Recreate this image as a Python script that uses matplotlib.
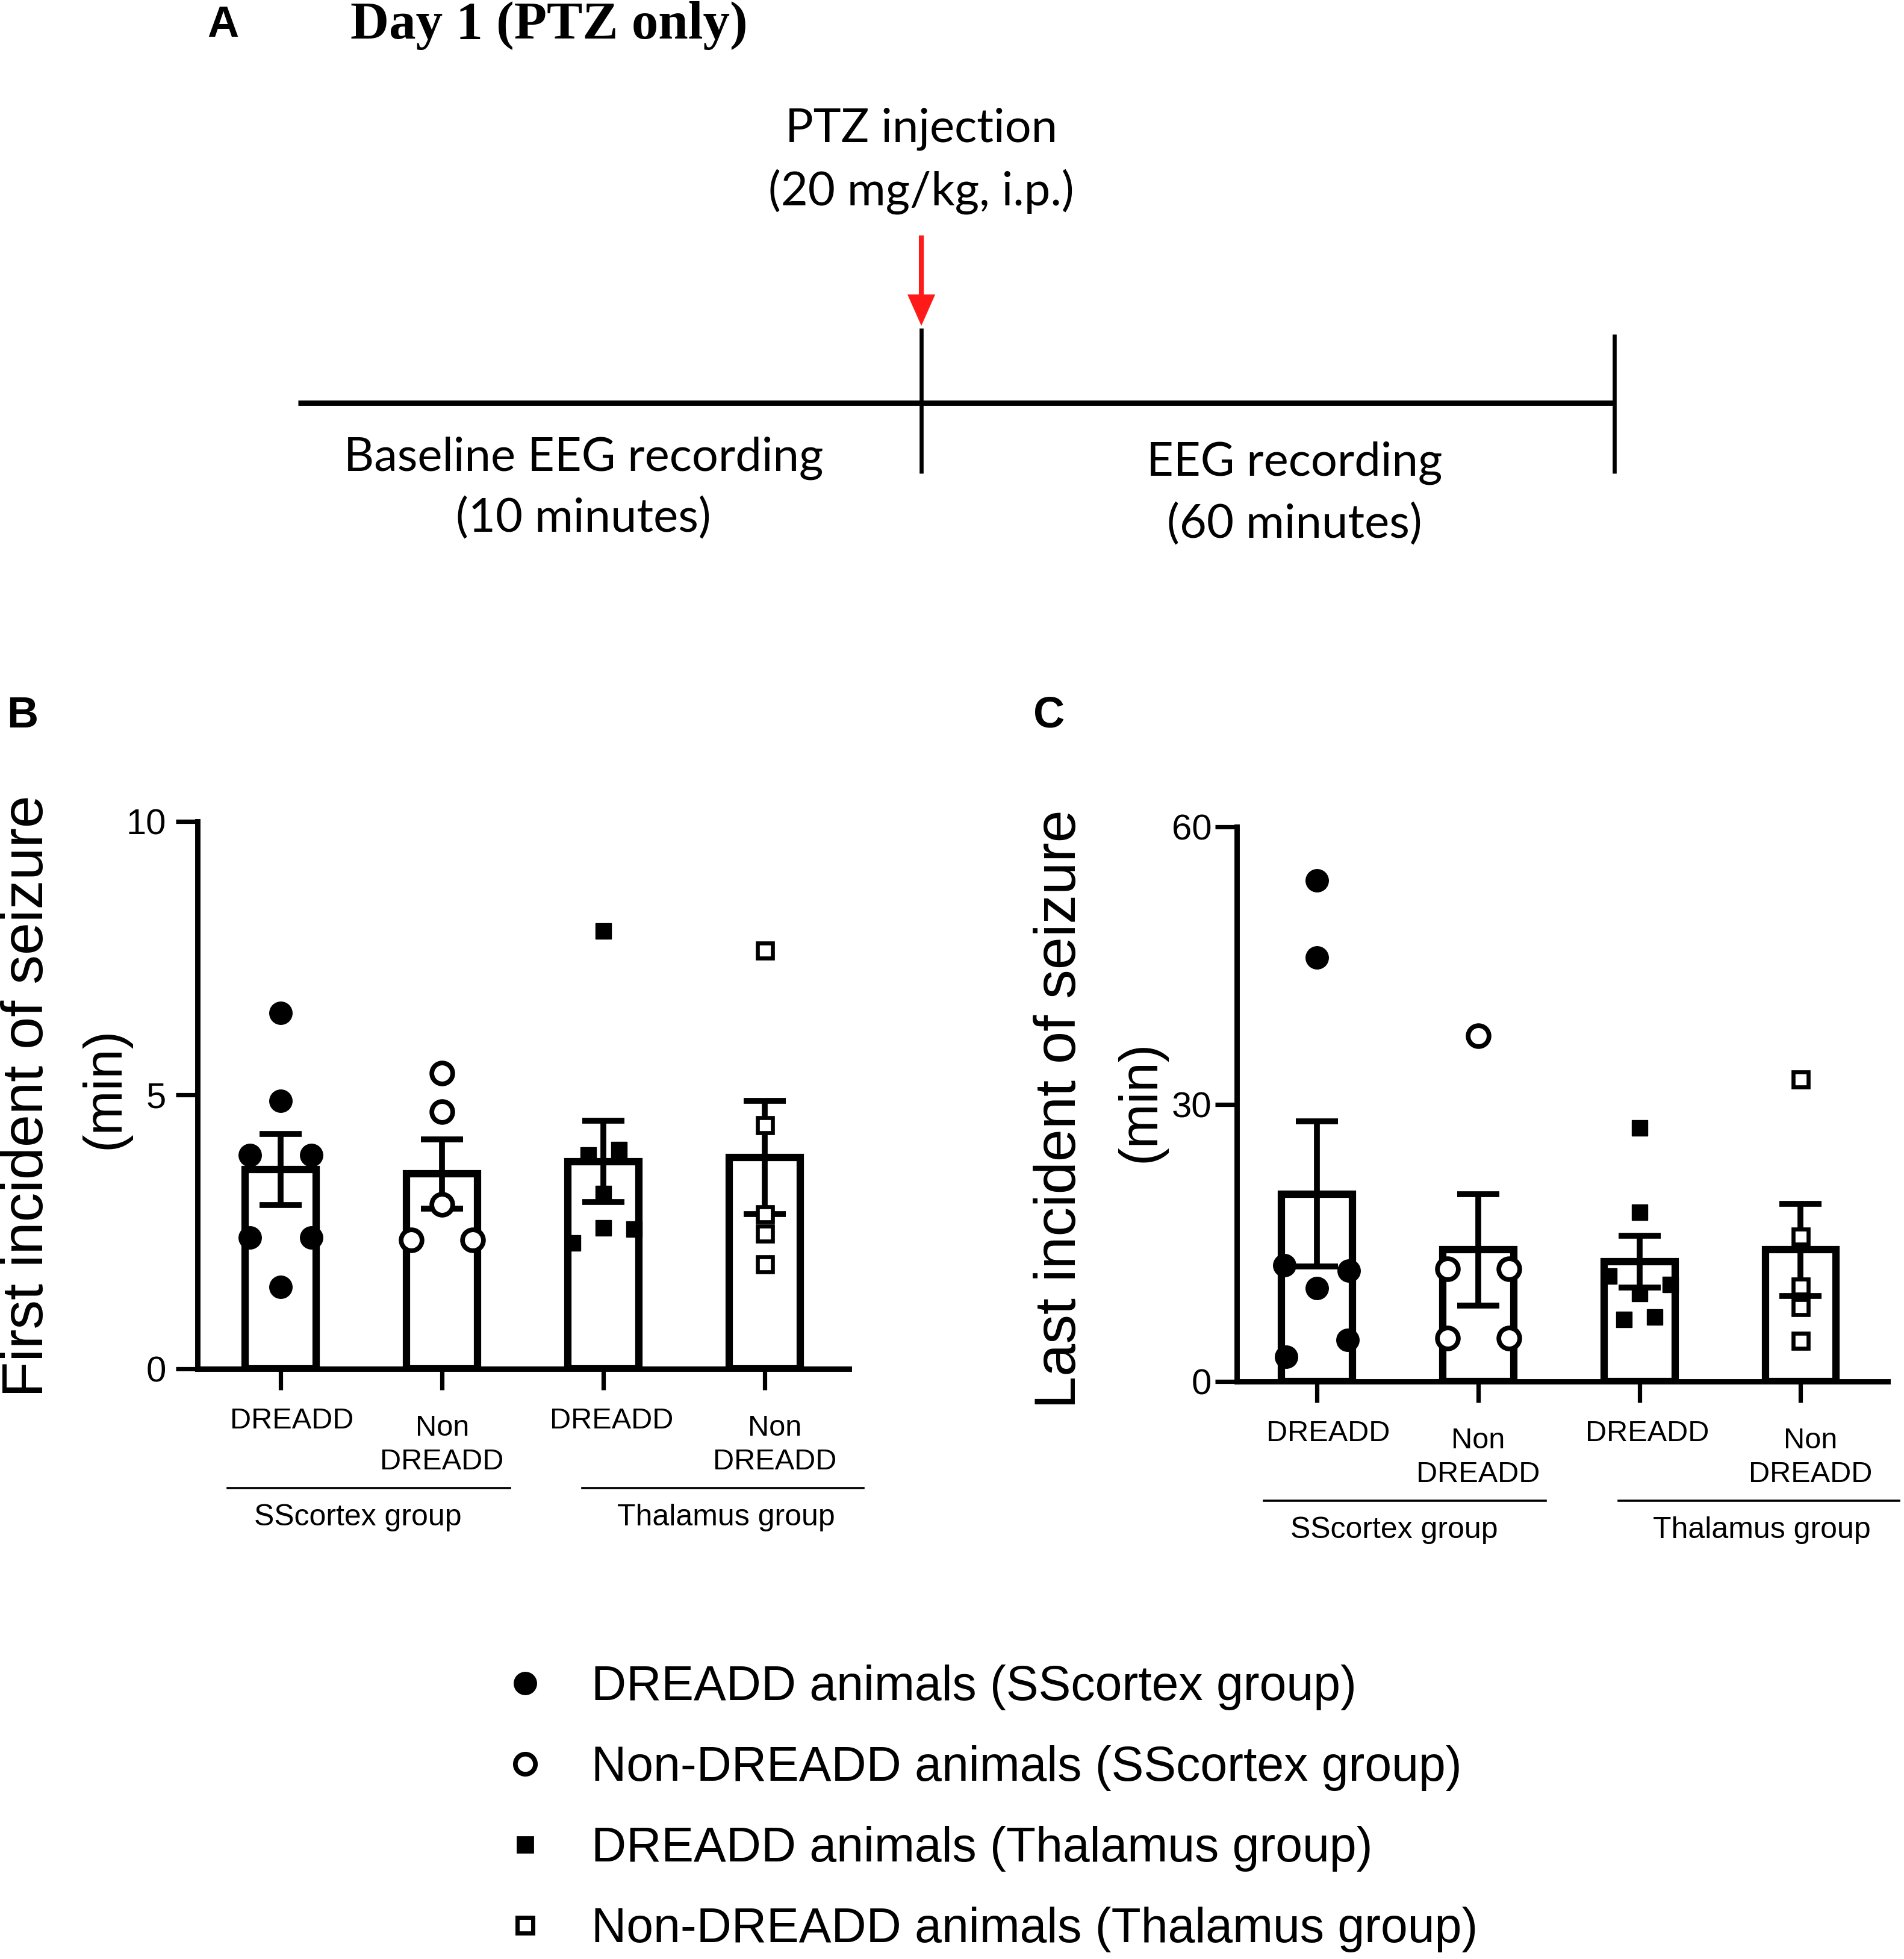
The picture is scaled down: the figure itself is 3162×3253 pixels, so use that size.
import numpy as np
import matplotlib
matplotlib.use("Agg")
import matplotlib.pyplot as plt
from matplotlib.lines import Line2D
from matplotlib.transforms import ScaledTranslation

# ---- data ----
bar_labels = ["DREADD", "Non\nDREADD", "DREADD", "Non\nDREADD"]
group_labels = ["SScortex group", "Thalamus group"]
legend_labels = [
    "DREADD animals (SScortex group)",
    "Non-DREADD animals (SScortex group)",
    "DREADD animals (Thalamus group)",
    "Non-DREADD animals (Thalamus group)",
]

# first incident of seizure (min)
first_ss_dreadd = [6.5, 4.9, 3.9, 3.9, 2.4, 2.4, 1.5]
first_ss_non = [5.4, 4.7, 3.0, 2.35, 2.35]
first_th_dreadd = [8.0, 4.0, 3.9, 3.2, 2.57, 2.55, 2.3]
first_th_non = [7.65, 4.45, 2.83, 2.47, 1.91]

# last incident of seizure (min)
last_ss_dreadd = [54.2, 45.9, 10.1, 12.0, 12.6, 4.5, 2.7]
last_ss_non = [37.4, 12.2, 12.2, 4.7, 4.7]
last_th_dreadd = [27.4, 18.3, 9.5, 10.5, 11.4, 7.0, 6.7]
last_th_non = [32.7, 15.7, 10.3, 8.1, 4.4]

first_ticks = [0, 5, 10]
last_ticks = [0, 30, 60]

SANS = ["Liberation Sans", "DejaVu Sans"]

# marker style per group: marker, face, size (pt), edge width, x step of a row
STYLES = [
    dict(marker="o", mfc="black", ms=13.5, mew=0.5, step=0.38),
    dict(marker="o", mfc="white", ms=12.5, mew=2.8, step=0.38),
    dict(marker="s", mfc="black", ms=9.5, mew=0.5, step=0.19),
    dict(marker="s", mfc="white", ms=9.0, mew=2.4, step=0.19),
]
MAX_SPREAD = 0.2


def swarm_offsets(values, min_gap, step):
    """Put overlapping points side by side in rows, like GraphPad does."""
    vals = np.asarray(values, dtype=float)
    order = np.argsort(-vals, kind="stable")
    rows, current = [], [order[0]]
    for prev, idx in zip(order[:-1], order[1:]):
        if vals[prev] - vals[idx] < min_gap:
            current.append(idx)
        else:
            rows.append(current)
            current = [idx]
    rows.append(current)

    offsets = np.zeros(len(vals))
    for row in rows:
        row = sorted(row)
        n = len(row)
        slots = (np.arange(n) - (n - 1) / 2) * step
        if n > 1 and slots.max() > MAX_SPREAD:
            slots = slots * MAX_SPREAD / slots.max()
        slot_order = sorted(range(n), key=lambda k: (abs(slots[k]), -slots[k]))
        for idx, k in zip(row, slot_order):
            offsets[idx] = slots[k]
    return offsets


def draw_panel(fig, ax, series, yticks, xlim, ypad):
    pos = np.arange(len(series))
    means = [np.mean(v) for v in series]
    sems = [np.std(v, ddof=1) / np.sqrt(len(v)) for v in series]

    ax.set_xlim(*xlim)
    ax.set_ylim(0, yticks[-1])

    ax.bar(pos, means, width=0.44, color="white", edgecolor="black",
           linewidth=4.4, zorder=1)
    ax.errorbar(pos, means, yerr=sems, fmt="none", ecolor="black",
                elinewidth=3.5, capsize=12.5, capthick=3.5, zorder=2)

    px_per_unit = ax.transData.transform((0, 1))[1] - ax.transData.transform((0, 0))[1]
    for i, (vals, st) in enumerate(zip(series, STYLES)):
        size_px = (st["ms"] + st["mew"]) * fig.dpi / 72
        offs = swarm_offsets(vals, size_px / px_per_unit, st["step"])
        ax.plot(i + offs, vals, ls="none", marker=st["marker"], ms=st["ms"],
                mfc=st["mfc"], mec="black", mew=st["mew"], zorder=3, clip_on=False)

    for side in ["top", "right"]:
        ax.spines[side].set_visible(False)
    for side in ["left", "bottom"]:
        ax.spines[side].set_linewidth(3.2)

    ax.set_yticks(yticks)
    ax.set_xticks(pos)
    ax.set_xticklabels([])
    ax.tick_params(axis="y", length=13, width=2.6, pad=ypad, labelsize=21.5)
    ax.tick_params(axis="x", length=12.6, width=2.6)
    for lab in ax.get_yticklabels():
        lab.set_family(SANS)

    # category labels under the ticks
    trans = ax.get_xaxis_transform()
    label_dx = [0.07, 0.0, 0.05, 0.06]
    for i, lab in enumerate(bar_labels):
        two_lines = "\n" in lab
        ax.annotate(lab, xy=(i + label_dx[i], 0), xycoords=trans,
                    xytext=(0, -45.5 if two_lines else -31.3), textcoords="offset points",
                    ha="center", va="center", fontsize=17.5, family=SANS,
                    linespacing=1.3)

    # group brackets
    spans = [(-0.33, 1.42), (1.87, 3.61)]
    text_x = [0.48, 2.76]
    shift = ScaledTranslation(0, -71.3 / 72, fig.dpi_scale_trans)
    for (x0, x1), tx, name in zip(spans, text_x, group_labels):
        ax.add_artist(Line2D([x0, x1], [0, 0], transform=trans + shift,
                             color="black", lw=1.3, clip_on=False))
        ax.annotate(name, xy=(tx, 0), xycoords=trans, xytext=(0, -89),
                    textcoords="offset points", ha="center", va="center",
                    fontsize=18, family=SANS)


fig = plt.figure(figsize=(15.81, 16.265), dpi=200)

# ---- panel A: protocol timeline (figure coordinates) ----
ax_bg = fig.add_axes([0, 0, 1, 1])
ax_bg.set_xlim(0, 1)
ax_bg.set_ylim(0, 1)
ax_bg.axis("off")

ax_bg.plot([0.1565, 0.848], [0.7943, 0.7943], color="black", lw=3.2,
           solid_capstyle="butt")
ax_bg.plot([0.4839, 0.4839], [0.7584, 0.8325], color="black", lw=2.4,
           solid_capstyle="butt")
ax_bg.plot([0.848, 0.848], [0.7584, 0.8294], color="black", lw=2.4,
           solid_capstyle="butt")
ax_bg.arrow(0.4839, 0.8798, 0, 0.8337 - 0.8798, width=0.0026, head_width=0.0146,
            head_length=0.016, length_includes_head=True, color="#ff1a1a", lw=0)

TL_FONT = ["Lato", "DejaVu Sans"]
ax_bg.text(0.4839, 0.9342, "PTZ injection", ha="center", va="center",
           fontsize=28, family=TL_FONT)
ax_bg.text(0.4839, 0.9022, "(20 mg/kg, i.p.)", ha="center", va="center",
           fontsize=28, family=TL_FONT)
ax_bg.text(0.3064, 0.7660, "Baseline EEG recording", ha="center", va="center",
           fontsize=28, family=TL_FONT)
ax_bg.text(0.3064, 0.7353, "(10 minutes)", ha="center", va="center",
           fontsize=28, family=TL_FONT)
ax_bg.text(0.6800, 0.7636, "EEG recording", ha="center", va="center",
           fontsize=28, family=TL_FONT)
ax_bg.text(0.6800, 0.7322, "(60 minutes)", ha="center", va="center",
           fontsize=28, family=TL_FONT)

ax_bg.text(0.117, 0.987, "A", ha="center", va="center", fontsize=26,
           fontweight="bold", family=SANS)
ax_bg.text(0.184, 0.987, "Day 1 (PTZ only)", ha="left", va="center", fontsize=32,
           fontweight="bold", family=["Liberation Serif", "DejaVu Serif"])
ax_bg.text(0.0118, 0.6345, "B", ha="center", va="center", fontsize=26,
           fontweight="bold", family=SANS)
ax_bg.text(0.551, 0.6345, "C", ha="center", va="center", fontsize=26,
           fontweight="bold", family=SANS)

# ---- panels B and C ----
ax_b = fig.add_axes([0.1037, 0.3013, 0.3422, 0.2794])
draw_panel(fig, ax_b, [first_ss_dreadd, first_ss_non, first_th_dreadd, first_th_non],
           first_ticks, (-0.515, 3.52), 5.8)

ax_c = fig.add_axes([0.6496, 0.2948, 0.3419, 0.2831])
draw_panel(fig, ax_c, [last_ss_dreadd, last_ss_non, last_th_dreadd, last_th_non],
           last_ticks, (-0.496, 3.54), 2.0)

fig.text(0.0145, 0.4405, "First incident of seizure", rotation=90, ha="center",
         va="center", fontsize=35, family=SANS)
fig.text(0.0553, 0.4445, "(min)", rotation=90, ha="center", va="center",
         fontsize=32, family=SANS)
fig.text(0.557, 0.434, "Last incident of seizure", rotation=90, ha="center",
         va="center", fontsize=35, family=SANS)
fig.text(0.599, 0.4378, "(min)", rotation=90, ha="center", va="center",
         fontsize=32, family=SANS)

# ---- legend ----
handles = [
    Line2D([], [], ls="none", marker="o", ms=13, mfc="black", mec="black"),
    Line2D([], [], ls="none", marker="o", ms=12, mfc="white", mec="black", mew=2.8),
    Line2D([], [], ls="none", marker="s", ms=9.5, mfc="black", mec="black"),
    Line2D([], [], ls="none", marker="s", ms=9.5, mfc="white", mec="black", mew=2.5),
]
fig.legend(handles, legend_labels, loc="upper left", bbox_to_anchor=(0.2656, 0.1503),
           bbox_transform=fig.transFigure, frameon=False,
           prop=dict(family=SANS, size=29), handlelength=0.8, handletextpad=0.97,
           labelspacing=0.72, borderpad=0, borderaxespad=0)

fig.savefig("out.png", dpi=200, facecolor="white")
